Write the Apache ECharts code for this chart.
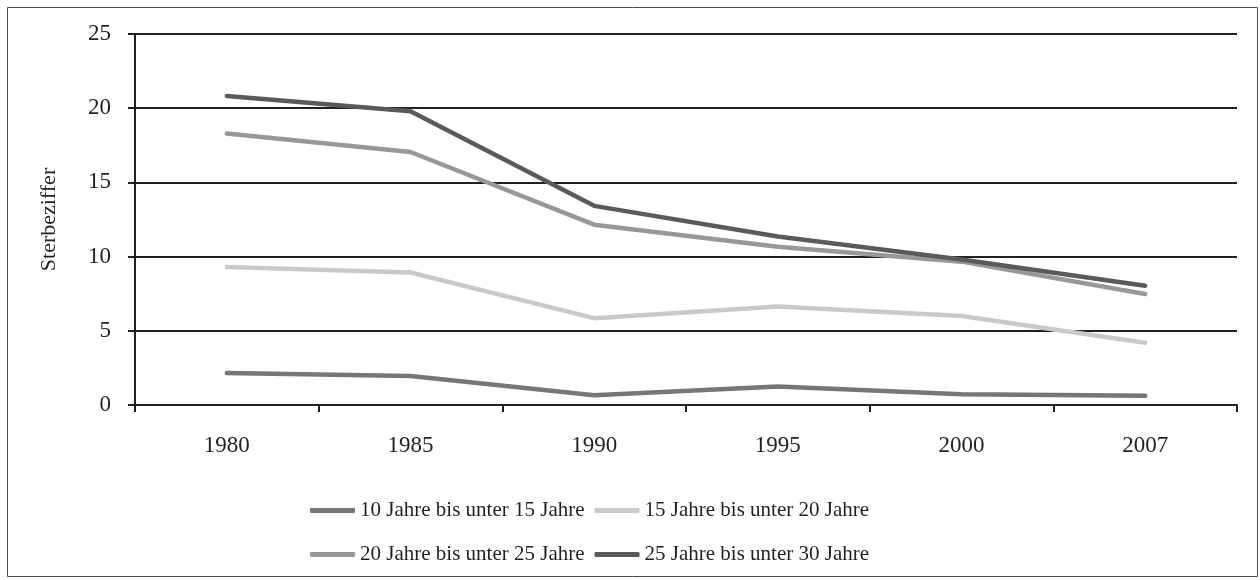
<!DOCTYPE html>
<html>
<head>
<meta charset="utf-8">
<script src="https://cdn.jsdelivr.net/npm/echarts@6/dist/echarts.min.js"></script>
<style>
html,body{margin:0;padding:0;background:#fff;}
#chart{width:1260px;height:580px;}
</style>
</head>
<body>
<div id="chart"></div>
<script>
const categories = ['1980', '1985', '1990', '1995', '2000', '2007'];
const seriesNames = ['10 Jahre bis unter 15 Jahre', '15 Jahre bis unter 20 Jahre', '20 Jahre bis unter 25 Jahre', '25 Jahre bis unter 30 Jahre'];
const age10to15 = [2.15, 1.95, 0.65, 1.25, 0.73, 0.62];
const age15to20 = [9.3, 8.93, 5.85, 6.63, 6.0, 4.2];
const age20to25 = [18.3, 17.05, 12.15, 10.67, 9.66, 7.48];
const age25to30 = [20.83, 19.8, 13.42, 11.35, 9.8, 8.04];
const seriesColors = ['#77777a', '#c8c9ca', '#98989b', '#5a5a5c'];
const yAxisName = 'Sterbeziffer';

const font = '"Liberation Serif", "Times New Roman", serif';
const chart = echarts.init(document.getElementById('chart'));
const allData = [age10to15, age15to20, age20to25, age25to30];

chart.setOption({
  animation: false,
  backgroundColor: '#fff',
  graphic: [{
    type: 'rect',
    shape: {x: 7.5, y: 7.5, width: 1250, height: 569},
    style: {fill: 'none', stroke: '#4a4a4a', lineWidth: 1},
    silent: true
  }],
  grid: {left: 135, right: 23, top: 34, bottom: 175, containLabel: false},
  legend: [
    {
      data: seriesNames.slice(0, 2),
      left: 305, top: 495, orient: 'horizontal',
      itemWidth: 45, itemHeight: 5, itemGap: 10, icon: 'roundRect',
      textStyle: {fontFamily: font, fontSize: 21, color: '#231f20'}
    },
    {
      data: seriesNames.slice(2, 4),
      left: 305, top: 539, orient: 'horizontal',
      itemWidth: 45, itemHeight: 5, itemGap: 10, icon: 'roundRect',
      textStyle: {fontFamily: font, fontSize: 21, color: '#231f20'}
    }
  ],
  xAxis: {
    type: 'category',
    data: categories,
    boundaryGap: true,
    axisLine: {lineStyle: {color: '#231f20', width: 2}},
    axisTick: {show: true, length: 7, lineStyle: {color: '#231f20', width: 2}},
    axisLabel: {fontFamily: font, fontSize: 23, color: '#231f20', margin: 29},
    splitLine: {show: false}
  },
  yAxis: {
    type: 'value',
    min: 0, max: 25, interval: 5,
    name: yAxisName,
    nameLocation: 'middle',
    nameGap: 75,
    nameRotate: 90,
    nameTextStyle: {fontFamily: font, fontSize: 22, color: '#231f20'},
    axisLine: {show: true, lineStyle: {color: '#231f20', width: 2}},
    axisTick: {show: true, length: 7, lineStyle: {color: '#231f20', width: 2}},
    axisLabel: {fontFamily: font, fontSize: 23, color: '#231f20', margin: 24},
    splitLine: {show: true, lineStyle: {color: '#231f20', width: 2}}
  },
  series: seriesNames.map((n, i) => ({
    name: n,
    type: 'line',
    data: allData[i],
    symbol: 'none',
    color: seriesColors[i],
    lineStyle: {color: seriesColors[i], width: 4.5, cap: 'round', join: 'round'},
    itemStyle: {color: seriesColors[i]}
  }))
});
</script>
</body>
</html>
